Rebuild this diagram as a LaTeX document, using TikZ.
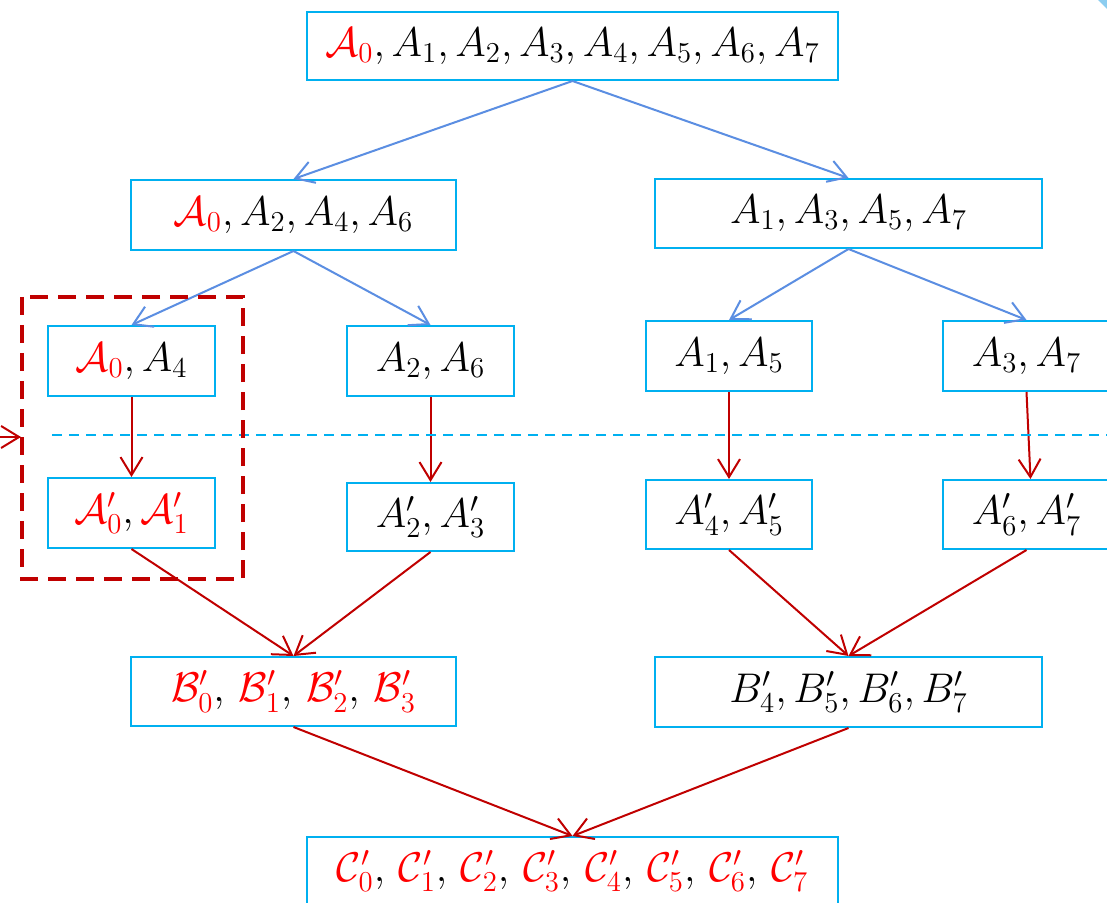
\documentclass[tikz,border=0pt]{standalone}
\usetikzlibrary{arrows.meta}
\definecolor{boxc}{RGB}{0,176,240}
\definecolor{bluearr}{RGB}{91,142,226}
\definecolor{redarr}{RGB}{192,0,0}
\definecolor{redtxt}{RGB}{255,0,0}
\definecolor{cornerc}{RGB}{140,205,240}
\newcommand{\rd}[1]{\textcolor{redtxt}{#1}}
\begin{document}
\begin{tikzpicture}[x=0.5pt,y=-0.5pt,
  box/.style={draw=boxc, line width=1pt, fill=white, inner sep=0pt,
    font=\fontsize{21}{25}\selectfont},
  barrow/.style={draw=bluearr, line width=1pt, -{Straight Barb[length=9pt,width=11pt]}},
  rarrow/.style={draw=redarr, line width=1pt, -{Straight Barb[length=9pt,width=11pt]}}]
\clip (0,0) rectangle (1107,903);
\useasboundingbox (0,0) rectangle (1107,903);
\fill[white] (0,0) rectangle (1107,903);
\fill[cornerc] (1098,0) -- (1107,0) -- (1107,9) -- cycle;

% level 1
\node[box, minimum width=265.5pt, minimum height=34pt] (top) at (572.5,46)
  {$\rd{\mathcal{A}_0}, A_1, A_2, A_3, A_4, A_5, A_6, A_7$};
% level 2
\node[box, minimum width=162.5pt, minimum height=35pt] (l2a) at (293.5,215)
  {$\rd{\mathcal{A}_0}, A_2, A_4, A_6$};
\node[box, minimum width=193.5pt, minimum height=34.5pt] (l2b) at (848.5,213.5)
  {$A_1, A_3, A_5, A_7$};
% level 3
\node[box, minimum width=83.5pt, minimum height=35pt] (l3a) at (131.5,361)
  {$\rd{\mathcal{A}_0}, A_4$};
\node[box, minimum width=83.5pt, minimum height=35pt] (l3b) at (430.5,361)
  {$A_2, A_6$};
\node[box, minimum width=83pt, minimum height=35pt] (l3c) at (729,356)
  {$A_1, A_5$};
\node[box, minimum width=83.5pt, minimum height=35pt] (l3d) at (1026.5,356)
  {$A_3, A_7$};
% level 4
\node[box, minimum width=83.5pt, minimum height=35pt] (l4a) at (131.5,513)
  {$\rd{\mathcal{A}'_0}, \rd{\mathcal{A}'_1}$};
\node[box, minimum width=83.5pt, minimum height=34pt] (l4b) at (430.5,517)
  {$A'_2, A'_3$};
\node[box, minimum width=83pt, minimum height=34.5pt] (l4c) at (729,514.5)
  {$A'_4, A'_5$};
\node[box, minimum width=83.5pt, minimum height=34.5pt] (l4d) at (1026.5,514.5)
  {$A'_6, A'_7$};
% level 5
\node[box, minimum width=162.5pt, minimum height=34.5pt] (l5a) at (293.5,691.5)
  {$\rd{\mathcal{B}'_0},\, \rd{\mathcal{B}'_1},\, \rd{\mathcal{B}'_2},\, \rd{\mathcal{B}'_3}$};
\node[box, minimum width=193.5pt, minimum height=35pt] (l5b) at (848.5,692)
  {$B'_4, B'_5, B'_6, B'_7$};
% level 6
\node[box, minimum width=265.5pt, minimum height=34pt] (bot) at (572.5,871)
  {$\rd{\mathcal{C}'_0},\, \rd{\mathcal{C}'_1},\, \rd{\mathcal{C}'_2},\, \rd{\mathcal{C}'_3},\, \rd{\mathcal{C}'_4},\, \rd{\mathcal{C}'_5},\, \rd{\mathcal{C}'_6},\, \rd{\mathcal{C}'_7}$};

% blue arrows
\draw[barrow] (top.south) -- (l2a.north);
\draw[barrow] (top.south) -- (l2b.north);
\draw[barrow] (l2a.south) -- (l3a.north);
\draw[barrow] (l2a.south) -- (l3b.north);
\draw[barrow] (l2b.south) -- (l3c.north);
\draw[barrow] (l2b.south) -- (l3d.north);
% red arrows
\draw[rarrow] (l3a.south) -- (l4a.north);
\draw[rarrow] (l3b.south) -- (l4b.north);
\draw[rarrow] (l3c.south) -- (l4c.north);
\draw[rarrow] (l3d.south) -- ([xshift=2pt]l4d.north);
\draw[rarrow] (l4a.south) -- (l5a.north);
\draw[rarrow] (l4b.south) -- (l5a.north);
\draw[rarrow] (l4c.south) -- (l5b.north);
\draw[rarrow] (l4d.south) -- (l5b.north);
\draw[rarrow] (l5a.south) -- (bot.north);
\draw[rarrow] (l5b.south) -- (bot.north);

% dashed separator
\coordinate (d1) at (52,435);
\coordinate (d2) at (1107,435);
\draw[boxc, line width=1pt, dash pattern=on 5pt off 3.5pt] (d1) -- (d2);
% dashed frame
\draw[redarr, line width=2pt, dash pattern=on 9pt off 5pt] (22,297) rectangle (243,579);
% left arrow
\coordinate (ls) at (-10,437);
\coordinate (le) at (21,437);
\draw[rarrow] (ls) -- (le);
\end{tikzpicture}
\end{document}
